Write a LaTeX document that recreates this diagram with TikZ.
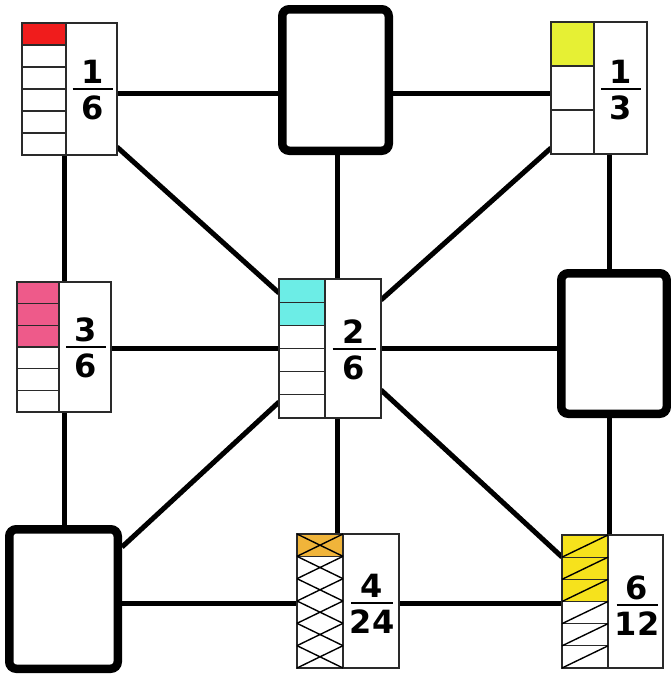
\documentclass[tikz,border=0pt]{standalone}
\usepackage{fontspec}
\setmainfont{DejaVu Sans}
\usetikzlibrary{calc}
\pgfdeclarelayer{background}
\pgfsetlayers{background,main}

\definecolor{cellred}{HTML}{F01C1C}
\definecolor{celllime}{HTML}{E6F034}
\definecolor{cellpink}{HTML}{EE5A8A}
\definecolor{cellcyan}{HTML}{6CEDE6}
\definecolor{cellorange}{HTML}{F0B43A}
\definecolor{cellyellow}{HTML}{F6E21C}
\definecolor{gridrule}{HTML}{2A2A2A}

\tikzset{
  link/.style={line width=5pt, draw=black},
  emptybox/.style={draw=black, line width=8.5pt, rounded corners=7pt, fill=white, inner sep=0pt},
  cardbox/.style={fill=white, inner sep=0pt, outer sep=0pt},
  cardline/.style={draw=gridrule, line width=1.3pt},
  cellrule/.style={cardline},
  markline/.style={draw=black, line width=1.4pt},
  fracbar/.style={line width=2.8pt, draw=black},
  fracdigit/.style={font=\bfseries\fontsize{32}{34}\selectfont, inner sep=0pt},
}

% fraction strip card: name, left, top, right, bottom, divider x, cells, shaded cells, shade colour
\newcommand\fraccard[9]{%
  \node[cardbox, minimum width={(#4)-(#2)}, minimum height={(#5)-(#3)}]
    (#1) at ({((#2)+(#4))/2},{((#3)+(#5))/2}) {};
  \pgfmathsetmacro\cellh{((#5)-(#3))/(#7)}
  \pgfmathtruncatemacro\lastrule{(#7)-1}
  \fill[#9] (#2,#3) rectangle (#6,{(#3)+(#8)*\cellh});
  \foreach \i in {1,...,\lastrule} {
    \draw[cellrule] (#2,{(#3)+\i*\cellh}) -- (#6,{(#3)+\i*\cellh});
  }
  \draw[cardline] (#2,{(#3)+(#8)*\cellh}) -- (#6,{(#3)+(#8)*\cellh});
  \draw[cardline] (#6,#3) -- (#6,#5);
  \draw[cardline] (#1.north west) rectangle (#1.south east);
}

% an X in every cell: left, top, divider x, cell height, cells
\newcommand\cellcrosses[5]{%
  \foreach \i in {1,...,#5} {
    \draw[markline] (#1,{(#2)+(\i-1)*(#4)}) -- (#3,{(#2)+\i*(#4)})
                    (#1,{(#2)+\i*(#4)}) -- (#3,{(#2)+(\i-1)*(#4)});
  }}

% one diagonal in every cell: left, top, divider x, cell height, cells
\newcommand\celldiagonals[5]{%
  \foreach \i in {1,...,#5} {
    \draw[markline] (#1,{(#2)+\i*(#4)}) -- (#3,{(#2)+(\i-1)*(#4)});
  }}

% fraction label: name, centre x, bar y, numerator, denominator, bar width
\newcommand\fraclabel[6]{%
  \node[fracdigit, anchor=base] (#1num) at (#2,{(#3)-6}) {#4};
  \node[fracdigit, anchor=north] (#1den) at (#2,{(#3)+7}) {#5};
  \draw[fracbar] ({(#2)-(#6)/2},#3) -- ({(#2)+(#6)/2},#3);
}

\begin{document}
\begin{tikzpicture}[x=1pt, y=-1pt]
\useasboundingbox (0,0) rectangle (671,675);

% empty answer boxes
\node[emptybox, minimum width=106.5, minimum height=141.5] (T) at (335.5,80) {};
\node[emptybox, minimum width=105.5, minimum height=140.5] (R) at (614,343.5) {};
\node[emptybox, minimum width=108.5, minimum height=139.5] (L) at (63.5,599) {};

% fraction cards
\fraccard{A}{22}{23}{117}{155}{66}{6}{1}{cellred}
\fraclabel{A}{92.5}{89}{1}{6}{40}

\fraccard{B}{551}{22}{647}{154}{594}{3}{1}{celllime}
\fraclabel{B}{621}{89}{1}{3}{40}

\fraccard{C}{17}{282}{111}{412}{59}{6}{3}{cellpink}
\fraclabel{C}{86}{347}{3}{6}{40}

\fraccard{D}{279}{279}{381}{418}{325}{6}{2}{cellcyan}
\fraclabel{D}{354}{349}{2}{6}{43}

% crossed strip: the crosses meet at the cell corners, no rules between them
\begin{scope}[cellrule/.style={draw=none}]
\fraccard{E}{297}{534}{399}{668}{343}{6}{1}{cellorange}
\end{scope}
\cellcrosses{297}{534}{343}{22.333}{6}
\fraclabel{E}{372}{603}{4}{24}{42}

\fraccard{F}{562}{535}{663}{668}{608}{6}{3}{cellyellow}
\celldiagonals{562}{535}{608}{22.167}{6}
\fraclabel{F}{637}{605}{6}{12}{41}

% connectors behind the cards
\begin{pgfonlayer}{background}
  % top row
  \draw[link] ([yshift=-4pt]A.center) -- ([yshift=-4pt]A.center -| T.center);
  \draw[link] ([yshift=-5pt]B.center) -- ([yshift=-5pt]B.center -| T.center);
  % middle row
  \draw[link] (C.center |- D.center) -- (D.center) -- (D.center -| R.center);
  % bottom row
  \draw[link] ([yshift=-2pt]E.center -| L.center) -- ([yshift=-2pt]E.center) -- ([yshift=-2pt]E.center -| F.center);
  % left column
  \draw[link] (A.center -| C.center) -- (C.center) -- (C.center |- L.center);
  % centre column
  \draw[link] ([xshift=1.5pt]T.center) -- ([xshift=1.5pt]T.center |- D.center) -- ([xshift=1.5pt]T.center |- E.center);
  % right column
  \draw[link] ([xshift=-5pt]R.center |- B.center) -- ([xshift=-5pt]R.center) -- ([xshift=-5pt]R.center |- F.center);
  % diagonals through the centre card
  \draw[link] ([yshift=8pt]A.south east) -- ([yshift=-14pt]D.north west);
  \draw[link] ([yshift=6pt]B.south west) -- ([yshift=-21pt]D.north east);
  \draw[link] ([yshift=16pt]D.south west) -- ([yshift=-22pt]L.north east);
  \draw[link] ([yshift=28pt]D.south east) -- ([yshift=-22pt]F.north west);
\end{pgfonlayer}
\end{tikzpicture}
\end{document}
